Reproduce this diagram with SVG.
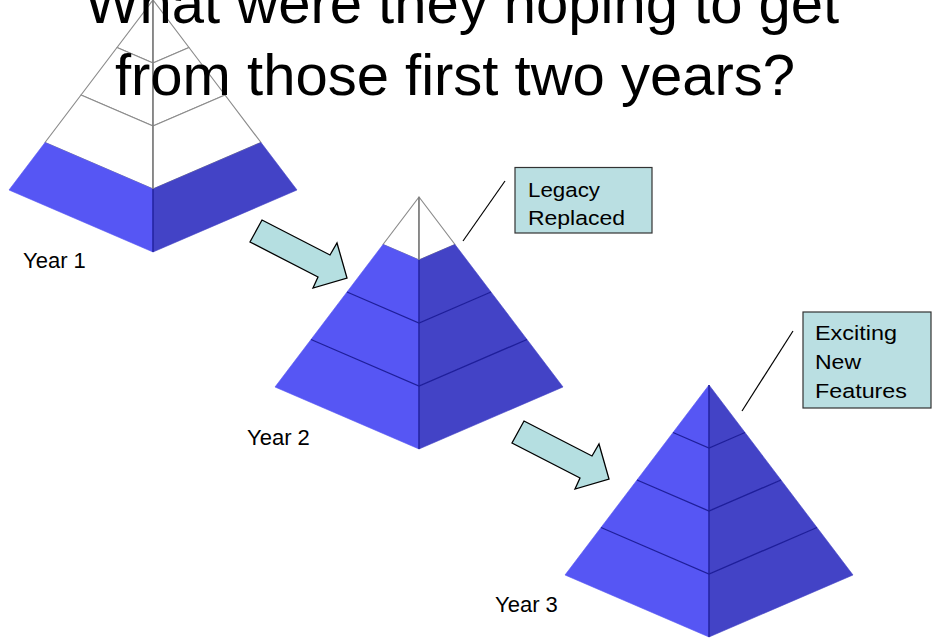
<svg xmlns="http://www.w3.org/2000/svg" xmlns:xlink="http://www.w3.org/1999/xlink" width="932" height="641" viewBox="0 0 932 641">
<style>
.w{fill:#ffffff;stroke:#8c8c8c;stroke-width:1.2;stroke-linejoin:round}
.bl{fill:#5656F4;stroke:#5656F4;stroke-width:0.6}
.br{fill:#4343C6;stroke:#4343C6;stroke-width:0.6}
.ln{fill:none;stroke:#1E1E9A;stroke-width:1.3}
.gl{fill:none;stroke:#7a7a7a;stroke-width:1.3}
.arrow{fill:#B5DFE1;stroke:#000;stroke-width:1.3;stroke-linejoin:miter}
.box{fill:#BADFE2;stroke:#333;stroke-width:1.2}
.lead{stroke:#000;stroke-width:1.2}
.title{font-family:"Liberation Sans",Arial,sans-serif;font-size:58px;fill:#000}
.lab{font-family:"Liberation Sans",Arial,sans-serif;font-size:22px;fill:#000}
.cl{font-family:"Liberation Sans",Arial,sans-serif;font-size:20.5px;fill:#000}
</style>
<defs>
<polygon id="lf1" points="0,0 -36,47.5 0,63"/>
<polygon id="rf1" points="0,0 0,63 36,47.5"/>
<polygon id="lf2" points="-36,47.5 0,63 0,126 -72,95"/>
<polygon id="rf2" points="36,47.5 0,63 0,126 72,95"/>
<polygon id="lf3" points="-72,95 0,126 0,189 -108,142.5"/>
<polygon id="rf3" points="72,95 0,126 0,189 108,142.5"/>
<polygon id="lf4" points="-108,142.5 0,189 0,252 -144,190"/>
<polygon id="rf4" points="108,142.5 0,189 0,252 144,190"/>
</defs>
<rect width="932" height="641" fill="#ffffff"/>

<g id="pyramid1" transform="translate(153,0)">
<use xlink:href="#lf1" class="w"/><use xlink:href="#rf1" class="w"/>
<use xlink:href="#lf2" class="w"/><use xlink:href="#rf2" class="w"/>
<use xlink:href="#lf3" class="w"/><use xlink:href="#rf3" class="w"/>
<use xlink:href="#lf4" class="bl"/><use xlink:href="#rf4" class="br"/>
<line class="gl" x1="0" y1="0" x2="0" y2="189"/>
<line class="ln" x1="0" y1="189" x2="0" y2="252" stroke-width="0.8"/>
</g>

<g id="pyramid2" transform="translate(419,197)">
<use xlink:href="#lf1" class="w"/><use xlink:href="#rf1" class="w"/>
<use xlink:href="#lf2" class="bl"/><use xlink:href="#rf2" class="br"/>
<use xlink:href="#lf3" class="bl"/><use xlink:href="#rf3" class="br"/>
<use xlink:href="#lf4" class="bl"/><use xlink:href="#rf4" class="br"/>
<line class="gl" x1="0" y1="0" x2="0" y2="63"/>
<line class="ln" x1="0" y1="63" x2="0" y2="252"/>
<polyline class="ln" points="-72,95 0,126 72,95"/>
<polyline class="ln" points="-108,142.5 0,189 108,142.5"/>
</g>

<g id="pyramid3" transform="translate(709,385)">
<use xlink:href="#lf1" class="bl"/><use xlink:href="#rf1" class="br"/>
<use xlink:href="#lf2" class="bl"/><use xlink:href="#rf2" class="br"/>
<use xlink:href="#lf3" class="bl"/><use xlink:href="#rf3" class="br"/>
<use xlink:href="#lf4" class="bl"/><use xlink:href="#rf4" class="br"/>
<line class="ln" x1="0" y1="0" x2="0" y2="252"/>
<polyline class="ln" points="-36,47.5 0,63 36,47.5"/>
<polyline class="ln" points="-72,95 0,126 72,95"/>
<polyline class="ln" points="-108,142.5 0,189 108,142.5"/>
</g>

<g id="title">
<text class="title" x="462" y="23" text-anchor="middle">What were they hoping to get</text>
<text class="title" x="455" y="95" text-anchor="middle">from those first two years?</text>
</g>

<g id="labels">
<text class="lab" x="23" y="268">Year 1</text>
<text class="lab" x="247" y="445">Year 2</text>
<text class="lab" x="495" y="612">Year 3</text>
</g>

<g id="connectors">
<path id="arrow1" class="arrow" d="M262,220 L330,255 L337,243 L347,278 L313,288 L318,277 L250,242 Z"/>
<path id="arrow2" class="arrow" transform="translate(262,201)" d="M262,220 L330,255 L337,243 L347,278 L313,288 L318,277 L250,242 Z"/>
<line class="lead" x1="463" y1="241" x2="505" y2="181"/>
<line class="lead" x1="742" y1="411" x2="793" y2="331"/>
</g>

<g id="callout1">
<rect class="box" x="515" y="167.5" width="137" height="65.5"/>
<text class="cl" x="528" y="197" textLength="72" lengthAdjust="spacingAndGlyphs">Legacy</text>
<text class="cl" x="528" y="225" textLength="97" lengthAdjust="spacingAndGlyphs">Replaced</text>
</g>

<g id="callout2">
<rect class="box" x="803" y="312" width="128" height="96"/>
<text class="cl" x="815" y="340" textLength="82" lengthAdjust="spacingAndGlyphs">Exciting</text>
<text class="cl" x="815" y="369" textLength="46" lengthAdjust="spacingAndGlyphs">New</text>
<text class="cl" x="815" y="398" textLength="92" lengthAdjust="spacingAndGlyphs">Features</text>
</g>
</svg>
